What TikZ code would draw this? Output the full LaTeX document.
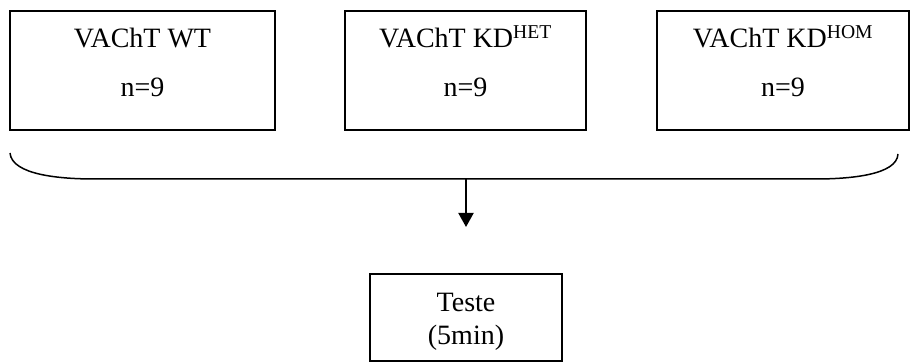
\documentclass[tikz,border=0pt]{standalone}
\usepackage{fontspec}
\setmainfont{Liberation Serif}
\usetikzlibrary{arrows.meta}
\begin{document}
\begin{tikzpicture}[x=1pt,y=-1pt,
  box/.style={draw, line width=2.5pt, inner sep=0pt},
  txt/.style={anchor=base, inner sep=0pt, font=\fontsize{28}{34}\selectfont}]
\useasboundingbox (0,0) rectangle (911,363);
\node[box, minimum width=265pt, minimum height=119pt] (wt) at (142.5,70.5){};
\node[box, minimum width=241pt, minimum height=119pt] (het) at (465.5,70.5){};
\node[box, minimum width=252pt, minimum height=119pt] (hom) at (783,70.5){};
\node[box, minimum width=192pt, minimum height=87pt] (teste) at (466,317.5){};
\node[txt] (wtname) at (142.5,48){VAChT WT};
\node[txt] (wtn) at (142.5,97){n=9};
\node[txt] (hetname) at (465.5,48){VAChT KD\textsuperscript{HET}};
\node[txt] (hetn) at (465.5,97){n=9};
\node[txt] (homname) at (783,48){VAChT KD\textsuperscript{HOM}};
\node[txt] (homn) at (783,97){n=9};
\node[txt] (testename) at (466,312){Teste};
\node[txt] (testetime) at (466,345){(5min)};
\coordinate (split) at (466,179);
\coordinate (tip) at (466,227);
\draw[line width=1.5pt] (10,153) .. controls (12,175) and (60,179) .. (95,179) -- (815,179) .. controls (850,179) and (897,175) .. (898,154);
\draw[line width=2pt, -{Triangle[width=15pt,length=14pt]}] (split) -- (tip);
\end{tikzpicture}
\end{document}
